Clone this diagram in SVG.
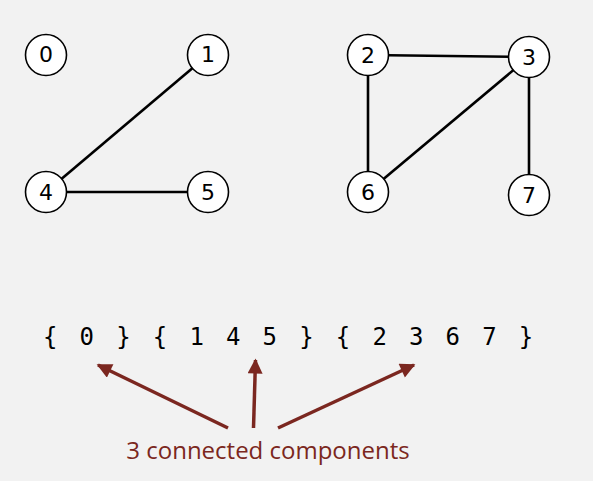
<svg xmlns="http://www.w3.org/2000/svg" width="593" height="481" viewBox="0 0 593 481">
<style>
.node circle{fill:#ffffff;stroke:#000;stroke-width:1.6}
.node text{font-family:"DejaVu Sans",sans-serif;font-size:22px;text-anchor:middle;fill:#000}
.edge{stroke:#000;stroke-width:2.6;fill:none}
.arrow{stroke:#7b2720;stroke-width:3.5;fill:none;marker-end:url(#ah)}
</style>
<defs>
<marker id="ah" viewBox="0 0 10 10" refX="9" refY="5" markerUnits="userSpaceOnUse" markerWidth="16" markerHeight="15" orient="auto">
<path d="M0,0 L10,5 L0,10 z" fill="#7b2720"/>
</marker>
</defs>
<rect width="593" height="481" fill="#f2f2f2"/>
<g id="connectors">
<line class="edge" x1="208" y1="55" x2="46" y2="192"/>
<line class="edge" x1="46" y1="192" x2="208" y2="192"/>
<line class="edge" x1="368" y1="55" x2="529" y2="57"/>
<line class="edge" x1="368" y1="55" x2="368" y2="192"/>
<line class="edge" x1="529" y1="57" x2="368" y2="192"/>
<line class="edge" x1="529" y1="57" x2="529" y2="195"/>
</g>
<g id="node0" class="node"><circle cx="46" cy="55" r="20.5"/><text x="46" y="62">0</text></g>
<g id="node1" class="node"><circle cx="208" cy="55" r="20.5"/><text x="208" y="62">1</text></g>
<g id="node4" class="node"><circle cx="46" cy="192" r="20.5"/><text x="46" y="200">4</text></g>
<g id="node5" class="node"><circle cx="208" cy="192" r="20.5"/><text x="208" y="200">5</text></g>
<g id="node2" class="node"><circle cx="368" cy="55" r="20.5"/><text x="368" y="63">2</text></g>
<g id="node3" class="node"><circle cx="529" cy="57" r="20.5"/><text x="529" y="65">3</text></g>
<g id="node6" class="node"><circle cx="368" cy="192" r="20.5"/><text x="368" y="200">6</text></g>
<g id="node7" class="node"><circle cx="529" cy="195" r="20.5"/><text x="529" y="203">7</text></g>
<g id="components">
<text x="43" y="345" font-family="DejaVu Sans Mono, monospace" font-size="24" letter-spacing="3.85" xml:space="preserve" fill="#000">{ 0 } { 1 4 5 } { 2 3 6 7 }</text>
</g>
<g id="annotation">
<line class="arrow" x1="228" y1="428" x2="98" y2="365"/>
<line class="arrow" x1="253.5" y1="428" x2="255.5" y2="360"/>
<line class="arrow" x1="278" y1="428" x2="414" y2="365"/>
<text x="268" y="459" font-family="Open Sans, sans-serif" font-size="24" text-anchor="middle" fill="#7b2720">3 connected components</text>
</g>
</svg>
